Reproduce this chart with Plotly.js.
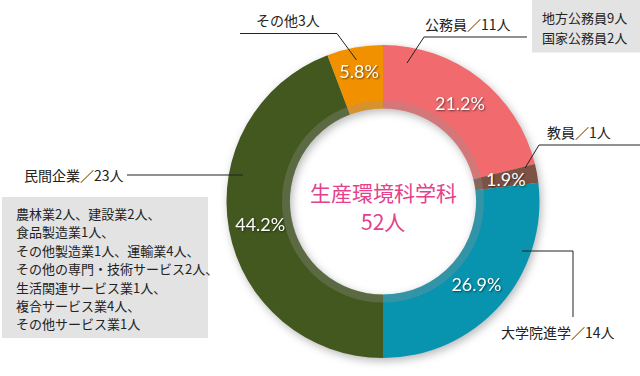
<!DOCTYPE html>
<html><head><meta charset="utf-8">
<script src="https://cdn.plot.ly/plotly-3.0.1.min.js"></script>
<style>html,body{margin:0;padding:0;background:#fff}#c{width:640px;height:376px}
#c .pielayer .trace{filter:drop-shadow(2px 3px 4px rgba(0,0,0,0.28));}</style>
</head><body><div id="c"></div>
<script>
const categories = ['公務員','教員','大学院進学','民間企業','その他'];
const counts = [11, 1, 14, 23, 3];
const colors = ['#f06a6e','#7b5244','#0894ae','#43581f','#f29100'];
const outerLabels = ['公務員／11人','教員／1人','大学院進学／14人','民間企業／23人','その他3人'];
const publicDetail = ['地方公務員9人','国家公務員2人'];
const privateDetail = ['農林業2人、建設業2人、','食品製造業1人、','その他製造業1人、運輸業4人、','その他の専門・技術サービス2人、','生活関連サービス業1人、','複合サービス業4人、','その他サービス業1人'];
const centerTitle = '生産環境科学科';
const totalLabel = '52人';

const W = 640, H = 376;
const CX = 383, CY = 201.5, R = 156.5, HOLE = 0.595;
const px = x => x / W, py = y => 1 - y / H;

const total = counts.reduce((a,b)=>a+b,0);
const smallIdx = counts.map((v,i)=> v/total < 0.03 ? i : -1).filter(i=>i>=0);
const textpos = counts.map((v,i)=> smallIdx.includes(i) ? 'none' : 'inside');

const pctFont = {family:'Lato, "DejaVu Sans", sans-serif', size:18, color:'#ffffff', shadow:'1px 1px 2px rgba(0,0,0,0.55)'};
const jpFont = {family:'"Noto Sans CJK JP", sans-serif', size:14, color:'#222'};

const trace = {
  type:'pie', labels:categories, values:counts, sort:false, direction:'clockwise', rotation:0,
  hole:HOLE, marker:{colors:colors, line:{width:0}},
  texttemplate:'%{percent:.1%}', textposition:textpos, insidetextorientation:'horizontal',
  insidetextfont:pctFont, showlegend:false, hoverinfo:'label+value+percent',
  domain:{x:[px(CX-R), px(CX+R)], y:[py(CY+R), py(CY-R)]}
};

const annotations = [];
let cum = 0;
counts.forEach((v,i)=>{
  const mid = (cum + v/2)/total * 2*Math.PI; cum += v;
  if (smallIdx.includes(i)) {
    const rr = R*(1+HOLE)/2;
    annotations.push({xref:'paper', yref:'paper', x:px(CX + rr*Math.sin(mid)), y:py(CY - rr*Math.cos(mid)),
      text:(v/total*100).toFixed(1)+'%', showarrow:false, font:pctFont, xanchor:'center', yanchor:'middle'});
  }
});

function lab(text, x, y, xa, size){ annotations.push({xref:'paper',yref:'paper',x:px(x),y:py(y),text:text,showarrow:false,xanchor:xa||'left',yanchor:'middle',font:Object.assign({},jpFont,{size:size||14})}); }
lab(outerLabels[0], 423, 24);
lab(outerLabels[1], 545, 132);
lab(outerLabels[2], 499, 332);
lab(outerLabels[3], 22, 175);
lab(outerLabels[4], 288, 20, 'center');
publicDetail.forEach((t,k)=> lab(t, 540, 17 + k*20, 'left', 13));
privateDetail.forEach((t,k)=> lab(t, 14, 213.5 + k*18.4, 'left', 13));

annotations.push({xref:'paper',yref:'paper',x:px(CX),y:py(192),text:centerTitle,showarrow:false,font:{family:'"Noto Sans CJK JP", sans-serif',size:21,color:'#e5408a'}});
annotations.push({xref:'paper',yref:'paper',x:px(CX),y:py(221),text:totalLabel,showarrow:false,font:{family:'"Noto Sans CJK JP", sans-serif',size:21,color:'#e5408a'}});

function line(x0,y0,x1,y1){ return {type:'line',xref:'paper',yref:'paper',x0:px(x0),y0:py(y0),x1:px(x1),y1:py(y1),line:{color:'#222',width:1}}; }
const shapes = [
  {type:'rect',xref:'paper',yref:'paper',x0:px(532),x1:px(640),y0:py(0),y1:py(52.5),fillcolor:'#e3e3e3',line:{width:0},layer:'below'},
  {type:'rect',xref:'paper',yref:'paper',x0:px(2),x1:px(208),y0:py(197),y1:py(338),fillcolor:'#e3e3e3',line:{width:0},layer:'below'},
  {type:'circle',xref:'paper',yref:'paper',x0:px(CX-97),x1:px(CX+97),y0:py(CY+97),y1:py(CY-97),line:{color:'rgba(150,150,150,0.3)',width:8},layer:'above'},
  line(240,33.5,337,33.5), line(337,33.5,356.5,60),
  line(424,37,527,37), line(424,37,407,63),
  line(539,145,640,145), line(539,145,525,168),
  line(522,251,573,251), line(573,251,573,317),
  line(127,175,243,175)
];

Plotly.newPlot('c',[trace],{width:W,height:H,margin:{l:0,r:0,t:0,b:0},paper_bgcolor:'#fff',annotations:annotations,shapes:shapes},{displayModeBar:false,staticPlot:true});
</script></body></html>
